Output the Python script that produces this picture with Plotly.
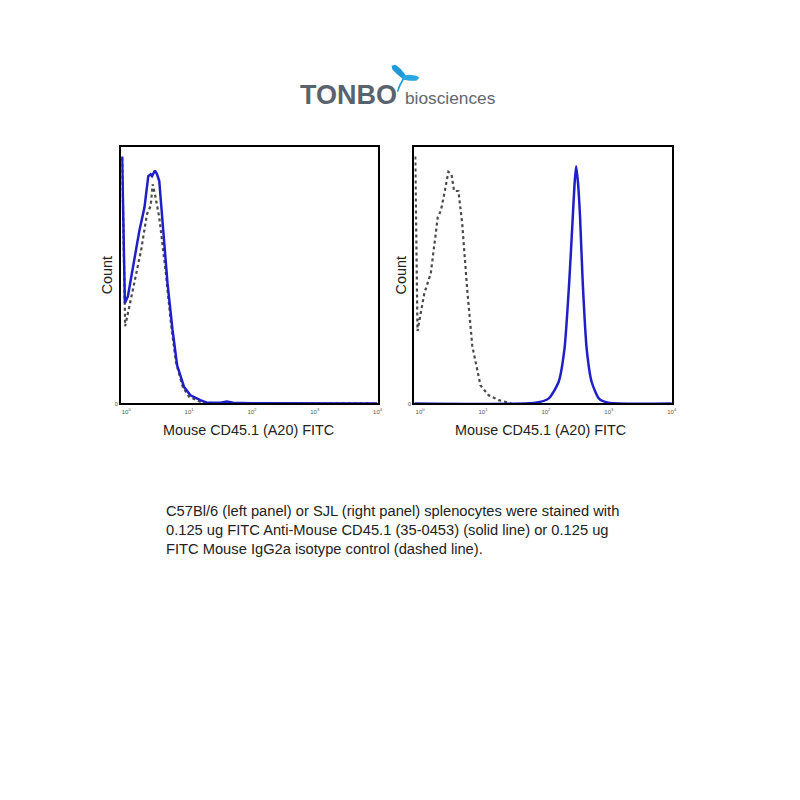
import plotly.graph_objects as go

# ---- data (fluorescence intensity, % of max count) ----
left_iso_x = [0.86, 0.96, 1.12, 1.35, 1.72, 2.14, 2.45, 2.63, 2.86, 3.35, 4.27, 5.13, 6.17, 7.94, 10.0, 15.1, 25.1, 10000]
left_iso_y = [96.0, 30.2, 37.9, 47.0, 59.8, 74.0, 77.2, 85.6, 81.7, 72.7, 50.8, 31.5, 16.1, 6.4, 2.6, 0.6, 0.1, 0.0]
left_ab_x = [0.86, 0.95, 1.06, 1.35, 1.62, 1.95, 2.24, 2.45, 2.57, 2.86, 3.09, 3.35, 3.78, 4.53, 5.43, 6.46, 8.32, 10.5, 15.1, 19.1, 31.6, 39.8, 50.1, 100, 10000]
left_ab_y = [96.5, 39.3, 41.8, 57.3, 67.6, 76.6, 88.8, 89.5, 88.8, 91.0, 89.5, 86.9, 70.1, 47.0, 29.0, 14.8, 6.4, 3.2, 1.3, 0.3, 0.3, 0.8, 0.3, 0.1, 0.0]

right_iso_x = [0.84, 0.91, 1.17, 1.48, 1.91, 2.14, 2.42, 2.82, 3.16, 3.47, 4.07, 4.68, 5.62, 6.76, 9.12, 12.3, 17.8, 24.0, 28.2]
right_iso_y = [96.5, 28.3, 43.1, 50.8, 72.7, 75.3, 81.7, 90.5, 89.5, 83.0, 83.0, 70.1, 44.4, 22.5, 7.1, 3.2, 1.3, 0.6, 0.0]
right_ab_x = [0.81, 68, 110, 159, 197, 234, 267, 285, 302, 325, 349, 385, 445, 533, 698, 980, 10000]
right_ab_y = [0.0, 0.3, 1.9, 8.4, 21.2, 47.0, 72.7, 85.6, 92.7, 85.6, 72.7, 47.0, 21.2, 8.4, 1.9, 0.3, 0.0]

tick_vals = [1, 10, 100, 1000, 10000]
tick_text = ["10<sup>0</sup>", "10<sup>1</sup>", "10<sup>2</sup>", "10<sup>3</sup>", "10<sup>4</sup>"]
x_title = "Mouse CD45.1 (A20) FITC"
y_title = "Count"
caption = [
    "C57Bl/6 (left panel) or SJL (right panel) splenocytes were stained with",
    "0.125 ug FITC Anti-Mouse CD45.1 (35-0453) (solid line) or 0.125 ug",
    "FITC Mouse IgG2a isotype control (dashed line).",
]

FONT = "Arial, Liberation Sans, Helvetica, sans-serif"
BLUE = "#1f1fc8"
GRAY = "#4a4a4a"
W = H = 800.0

def px(x):
    return x / W

def py(y):
    return 1 - y / H

fig = go.Figure()
fig.add_trace(go.Scatter(x=left_iso_x, y=left_iso_y, mode="lines", xaxis="x", yaxis="y",
                         line=dict(color=GRAY, width=2.2, dash="dot"), hoverinfo="skip"))
fig.add_trace(go.Scatter(x=left_ab_x, y=left_ab_y, mode="lines", xaxis="x", yaxis="y",
                         line=dict(color=BLUE, width=2.5), hoverinfo="skip"))
fig.add_trace(go.Scatter(x=right_iso_x, y=right_iso_y, mode="lines", xaxis="x2", yaxis="y2",
                         line=dict(color=GRAY, width=2.2, dash="dot"), hoverinfo="skip"))
fig.add_trace(go.Scatter(x=right_ab_x, y=right_ab_y, mode="lines", xaxis="x2", yaxis="y2",
                         line=dict(color=BLUE, width=2.5, shape="spline", smoothing=0.6), hoverinfo="skip"))

xcommon = dict(type="log", tickvals=tick_vals, ticktext=tick_text, showgrid=False, zeroline=False,
               showline=True, linecolor="black", linewidth=2, mirror=True, ticks="",
               tickfont=dict(family=FONT, size=6, color="#555"), ticklabelstandoff=1)
ycommon = dict(range=[0, 100], tickvals=[0], ticktext=["0"], showgrid=False, zeroline=False,
               showline=True, linecolor="black", linewidth=2, mirror=True, ticks="",
               tickfont=dict(family=FONT, size=6, color="#555"))

fig.update_layout(
    width=800, height=800, margin=dict(l=0, r=0, t=0, b=0),
    paper_bgcolor="white", plot_bgcolor="white", showlegend=False,
    xaxis=dict(domain=[px(122), px(380)], range=[-0.08, 4.0], anchor="y", **xcommon),
    yaxis=dict(domain=[py(405), py(148)], anchor="x", **ycommon),
    xaxis2=dict(domain=[px(417), px(676)], range=[-0.09, 4.0], anchor="y2", **xcommon),
    yaxis2=dict(domain=[py(405), py(148)], anchor="x2", **ycommon),
)

ann = []
for cx in (250, 544):
    ann.append(dict(x=px(cx), y=py(432), xref="paper", yref="paper", text=x_title, showarrow=False,
                    font=dict(family=FONT, size=14.4, color="#222"), xanchor="center", yanchor="middle"))
for cx in (108, 403):
    ann.append(dict(x=px(cx), y=py(276), xref="paper", yref="paper", text=y_title, showarrow=False,
                    textangle=-90, font=dict(family=FONT, size=14.4, color="#222"),
                    xanchor="center", yanchor="middle"))
for i, line in enumerate(caption):
    ann.append(dict(x=px(165), y=py(513 + 19 * i), xref="paper", yref="paper", text=line, showarrow=False,
                    font=dict(family=FONT, size=14.7, color="#222"), xanchor="left", yanchor="middle"))
# logo
ann.append(dict(x=px(300), y=py(95), xref="paper", yref="paper", text="<b>TONBO</b>", showarrow=False,
                font=dict(family=FONT, size=27, color="#5a636d"), xanchor="left", yanchor="middle"))
ann.append(dict(x=px(406), y=py(98), xref="paper", yref="paper", text="biosciences", showarrow=False,
                font=dict(family=FONT, size=17.3, color="#62676e"), xanchor="left", yanchor="middle"))
fig.update_layout(annotations=ann)

def path(points):
    s = "M " + " L ".join(f"{px(a):.5f},{py(b):.5f}" for a, b in points) + " Z"
    return s

shapes = [
    # upper-left wing
    dict(type="path", xref="paper", yref="paper", line=dict(width=0), fillcolor="#1e9ad6",
         path=path([(394, 66), (398, 65), (403, 69), (408, 75), (409, 79), (405, 79), (399, 74), (395, 70)])),
    # right wing
    dict(type="path", xref="paper", yref="paper", line=dict(width=0), fillcolor="#2aa6e0",
         path=path([(405, 76), (412, 75), (419, 76), (422, 78), (419, 81), (412, 81), (406, 80)])),
    # body / tail
    dict(type="path", xref="paper", yref="paper", line=dict(color="#1e9ad6", width=1.6),
         path=f"M {px(406):.5f},{py(79):.5f} Q {px(402):.5f},{py(85):.5f} {px(400):.5f},{py(92):.5f}"),
]
fig.update_layout(shapes=shapes)

fig.write_html("out.html")
